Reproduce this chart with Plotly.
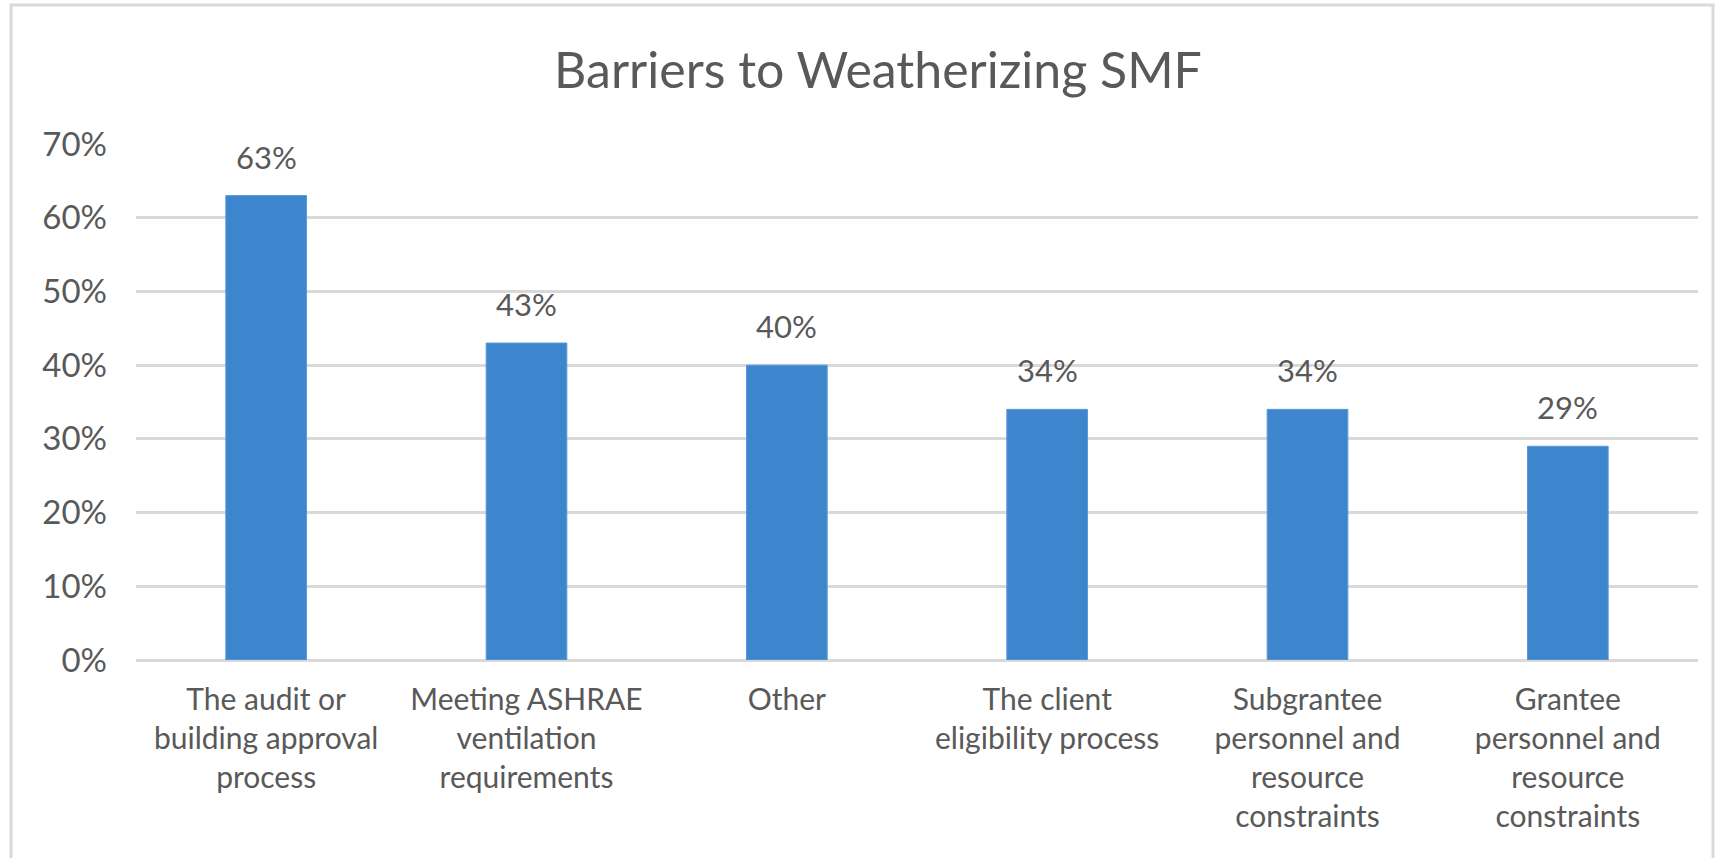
import plotly.graph_objects as go

categories = [
    "The audit or<br>building approval<br>process",
    "Meeting ASHRAE<br>ventilation<br>requirements",
    "Other",
    "The client<br>eligibility process",
    "Subgrantee<br>personnel and<br>resource<br>constraints",
    "Grantee<br>personnel and<br>resource<br>constraints",
]
values = [0.63, 0.43, 0.40, 0.34, 0.34, 0.29]
labels = ["63%", "43%", "40%", "34%", "34%", "29%"]
y_ticks = [0, 0.1, 0.2, 0.3, 0.4, 0.5, 0.6, 0.7]
y_ticktext = ["0%", "10%", "20%", "30%", "40%", "50%", "60%", "70%"]

FONT = "Lato"
GREY = "#595959"

fig = go.Figure()
fig.add_trace(go.Bar(
    x=categories,
    y=values,
    marker=dict(color="#3D85CC", line=dict(color="#5A9AD8", width=1)),
))

for c, v, t in zip(categories, values, labels):
    fig.add_annotation(
        x=c, y=v, text=t, showarrow=False,
        xref="x", yref="y", yanchor="bottom", yshift=18,
        font=dict(family=FONT, size=31, color=GREY),
    )

W, H = 1721, 858
L, R, T, B = 136, 23, 144, 198
pw, ph = W - L - R, H - T - B

fig.update_layout(
    width=W, height=H,
    margin=dict(l=L, r=R, t=T, b=B),
    paper_bgcolor="white",
    plot_bgcolor="white",
    bargap=0.69,
    showlegend=False,
    title=dict(
        text="Barriers to Weatherizing SMF",
        x=878 / W, xanchor="center",
        y=1 - 70 / H, yanchor="middle",
        font=dict(family=FONT, size=50, color=GREY),
    ),
    xaxis=dict(
        tickfont=dict(family=FONT, size=30, color=GREY),
        showgrid=False,
        showline=False,
        ticks="",
        ticklabelstandoff=19,
    ),
    yaxis=dict(
        range=[0, 0.7],
        tickvals=y_ticks,
        ticktext=y_ticktext,
        tickfont=dict(family=FONT, size=33, color=GREY),
        showgrid=True,
        gridcolor="#D9D9D9",
        gridwidth=3,
        zeroline=True,
        zerolinecolor="#D9D9D9",
        zerolinewidth=3,
        showline=False,
        ticks="",
        ticklabelstandoff=28,
    ),
    shapes=[dict(
        type="rect", xref="paper", yref="paper",
        x0=(11 - L) / pw, x1=(1713 - L) / pw,
        y0=(H - B - 900) / ph, y1=(H - B - 5) / ph,
        line=dict(color="#D9D9D9", width=3),
        fillcolor="rgba(0,0,0,0)",
        layer="below",
    )],
)

fig.write_html(
    "out.html",
    config={"displayModeBar": False},
    post_script="document.body.style.margin='0';",
)
